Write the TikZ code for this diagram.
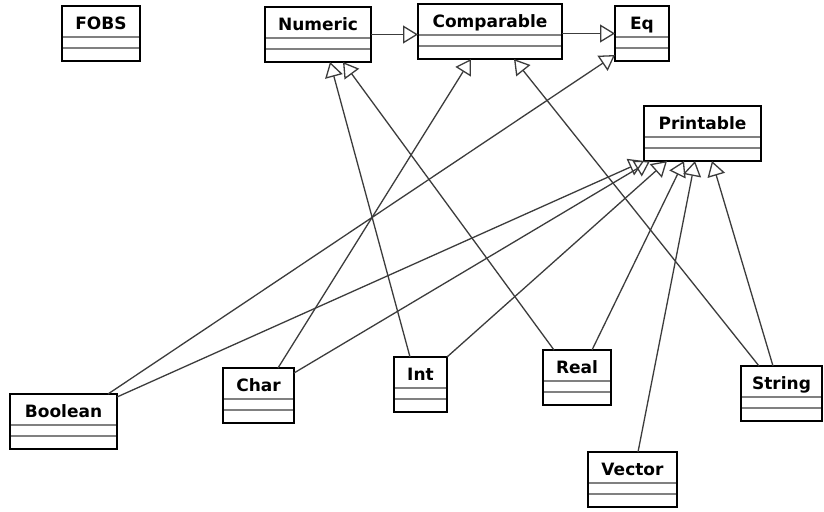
\documentclass[tikz,border=0pt]{standalone}
\usepackage{fontspec}
\newfontfamily\clsfont{DejaVu Sans}
\usetikzlibrary{arrows.meta}

\definecolor{sepgray}{RGB}{128,128,128}
\definecolor{linkgray}{RGB}{60,60,60}

\tikzset{
  cls/.style={draw=black, line width=2.4pt, fill=white, rectangle, outer sep=0pt,
    inner xsep=0pt, inner ysep=0pt, text height=23.5pt, text depth=31.5pt,
    minimum height=55pt, anchor=north west,
    font=\clsfont\bfseries\fontsize{17}{20}\selectfont},
  sepline/.style={draw=sepgray, line width=2pt},
  gen/.style={draw=linkgray, line width=1.3pt,
    -{Triangle[open, length=15pt, width=18pt, line width=1.3pt]}},
}

% class box: name, x, y (top-left of the outline), width, title
\newcommand{\umlclass}[5]{%
  \node[cls, minimum width=#4pt] (#1) at (#2,#3) {#5};
  \draw[sepline] ([yshift=-31pt]#1.north west) -- ([yshift=-31pt]#1.north east);
  \draw[sepline] ([yshift=-42pt]#1.north west) -- ([yshift=-42pt]#1.north east);
  \draw[line width=2.4pt] (#1.north west) rectangle (#1.south east);
}

\begin{document}
\begin{tikzpicture}[x=1pt, y=-1pt]
\useasboundingbox[fill=white] (0,0) rectangle (824,511);

\umlclass{fobs}{62}{6}{78}{FOBS}
\umlclass{numeric}{265}{7}{106}{Numeric}
\umlclass{comparable}{418}{4}{144}{Comparable}
\umlclass{eq}{615}{6}{54}{Eq}
\umlclass{printable}{644}{106}{117}{Printable}
\umlclass{boolean}{10}{394}{107}{Boolean}
\umlclass{char}{223}{368}{71}{Char}
\umlclass{int}{394}{357}{53}{Int}
\umlclass{real}{543}{350}{68}{Real}
\umlclass{string}{741}{366}{81}{String}
\umlclass{vector}{588}{452}{89}{Vector}

% generalizations among the type classes
\draw[gen] (numeric.east) -- (numeric.east -| comparable.west);
\draw[gen] (comparable.east |- eq.west) -- (eq.west);

\draw[gen] ([xshift=-10.5pt]int.north) -- ([xshift=12pt]numeric.south);
\draw[gen] ([xshift=-23pt]real.north) -- ([xshift=25pt]numeric.south);
\draw[gen] ([xshift=19.5pt]char.north) -- ([xshift=-19pt]comparable.south);
\draw[gen] ([xshift=-22.5pt]string.north) -- ([xshift=24pt]comparable.south);
\draw[gen] ([xshift=44.5pt]boolean.north) -- ([yshift=-21.5pt]eq.west);

% everything printable
\draw[gen] ([yshift=-3pt]boolean.north east) -- (printable.south west);
\draw[gen] ([yshift=-5pt]char.north east) -- ([xshift=-52.5pt]printable.south);
\draw[gen] (int.north east) -- ([xshift=-35.5pt]printable.south);
\draw[gen] ([xshift=15pt]real.north) -- ([xshift=-18.5pt]printable.south);
\draw[gen] ([xshift=5.5pt]vector.north) -- ([xshift=-7.5pt]printable.south);
\draw[gen] ([xshift=-8.5pt]string.north) -- ([xshift=9.5pt]printable.south);
\end{tikzpicture}
\end{document}
